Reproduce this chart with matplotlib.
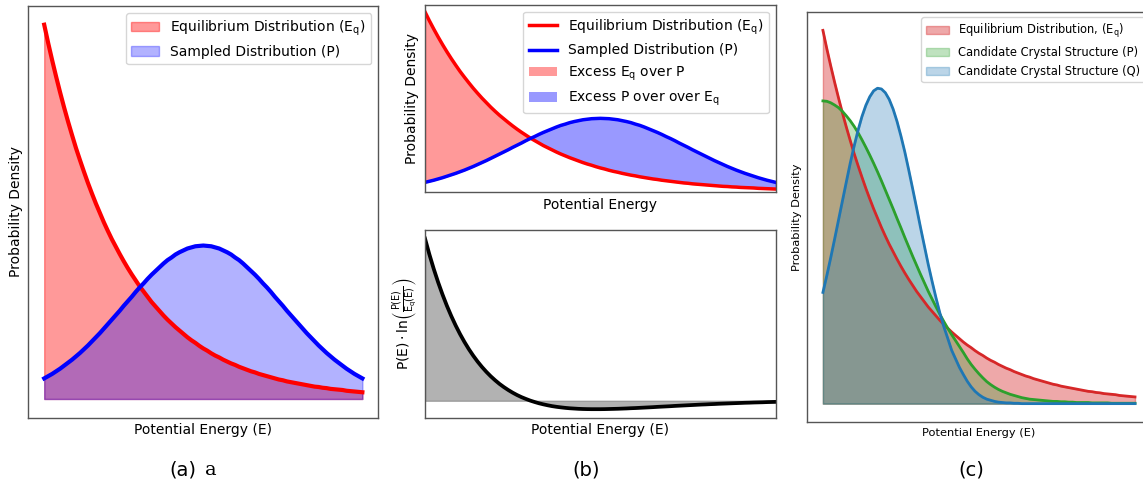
import numpy as np
import matplotlib
matplotlib.use("Agg")
import matplotlib.pyplot as plt
from matplotlib.lines import Line2D
from matplotlib.patches import Patch

plt.rcParams['font.family'] = ['DejaVu Sans']
plt.rcParams['mathtext.fontset'] = 'dejavusans'

# ---- data (x = normalised potential energy) ----
energy = np.linspace(0, 1, 81)

eq_density = [1.000, 0.951, 0.905, 0.861, 0.819, 0.779, 0.741, 0.705, 0.670, 0.638,
              0.607, 0.577, 0.549, 0.522, 0.497, 0.472, 0.449, 0.427, 0.407, 0.387,
              0.368, 0.350, 0.333, 0.317, 0.301, 0.287, 0.273, 0.259, 0.247, 0.235,
              0.223, 0.212, 0.202, 0.192, 0.183, 0.174, 0.165, 0.157, 0.150, 0.142,
              0.135, 0.129, 0.122, 0.116, 0.111, 0.105, 0.100, 0.095, 0.091, 0.086,
              0.082, 0.078, 0.074, 0.071, 0.067, 0.064, 0.061, 0.058, 0.055, 0.052,
              0.050, 0.047, 0.045, 0.043, 0.041, 0.039, 0.037, 0.035, 0.033, 0.032,
              0.030, 0.029, 0.027, 0.026, 0.025, 0.024, 0.022, 0.021, 0.020, 0.019,
              0.018]

sampled_density = [0.055, 0.061, 0.067, 0.074, 0.081, 0.089, 0.097, 0.105, 0.114, 0.123,
                   0.133, 0.143, 0.154, 0.165, 0.176, 0.188, 0.200, 0.212, 0.224, 0.236,
                   0.249, 0.261, 0.273, 0.286, 0.298, 0.309, 0.321, 0.332, 0.342, 0.352,
                   0.362, 0.371, 0.378, 0.386, 0.392, 0.397, 0.402, 0.405, 0.408, 0.409,
                   0.410, 0.409, 0.408, 0.405, 0.402, 0.397, 0.392, 0.386, 0.378, 0.371,
                   0.362, 0.352, 0.342, 0.332, 0.321, 0.309, 0.298, 0.286, 0.273, 0.261,
                   0.249, 0.236, 0.224, 0.212, 0.200, 0.188, 0.176, 0.165, 0.154, 0.143,
                   0.133, 0.123, 0.114, 0.105, 0.097, 0.089, 0.081, 0.074, 0.067, 0.061,
                   0.055]

kl_term = [2.892, 2.609, 2.349, 2.111, 1.893, 1.692, 1.509, 1.341, 1.188, 1.048,
           0.920, 0.804, 0.698, 0.602, 0.515, 0.436, 0.365, 0.300, 0.243, 0.191,
           0.144, 0.102, 0.065, 0.033, 0.003, -0.022, -0.045, -0.064, -0.081, -0.096,
           -0.108, -0.118, -0.127, -0.134, -0.139, -0.144, -0.147, -0.149, -0.150, -0.150,
           -0.150, -0.149, -0.147, -0.145, -0.143, -0.140, -0.137, -0.133, -0.130, -0.126,
           -0.122, -0.118, -0.114, -0.109, -0.105, -0.101, -0.097, -0.092, -0.088, -0.084,
           -0.080, -0.076, -0.072, -0.068, -0.065, -0.061, -0.058, -0.054, -0.051, -0.048,
           -0.045, -0.042, -0.039, -0.036, -0.034, -0.031, -0.029, -0.027, -0.024, -0.022,
           -0.020]

eq_crystal = eq_density

cand_p = [0.811, 0.810, 0.806, 0.800, 0.793, 0.783, 0.771, 0.758, 0.743, 0.726,
          0.707, 0.687, 0.666, 0.644, 0.621, 0.597, 0.572, 0.547, 0.522, 0.496,
          0.471, 0.445, 0.420, 0.395, 0.371, 0.347, 0.324, 0.301, 0.280, 0.259,
          0.239, 0.220, 0.202, 0.185, 0.169, 0.153, 0.137, 0.120, 0.105, 0.092,
          0.080, 0.069, 0.059, 0.051, 0.044, 0.038, 0.033, 0.029, 0.025, 0.022,
          0.019, 0.016, 0.014, 0.012, 0.011, 0.010, 0.009, 0.008, 0.007, 0.006,
          0.006, 0.005, 0.005, 0.004, 0.004, 0.003, 0.003, 0.003, 0.003, 0.002,
          0.002, 0.002, 0.002, 0.002, 0.001, 0.001, 0.001, 0.001, 0.001, 0.001,
          0.001]

cand_q = [0.298, 0.343, 0.391, 0.441, 0.492, 0.543, 0.594, 0.644, 0.690, 0.732,
          0.769, 0.799, 0.822, 0.838, 0.845, 0.843, 0.833, 0.815, 0.789, 0.756,
          0.717, 0.674, 0.626, 0.576, 0.525, 0.473, 0.423, 0.373, 0.327, 0.283,
          0.242, 0.206, 0.175, 0.143, 0.120, 0.097, 0.078, 0.060, 0.045, 0.033,
          0.024, 0.017, 0.012, 0.009, 0.006, 0.004, 0.003, 0.002, 0.002, 0.001,
          0.001, 0.000, 0.000, 0.000, 0.000, 0.000, 0.000, 0.000, 0.000, 0.000,
          0.000, 0.000, 0.000, 0.000, 0.000, 0.000, 0.000, 0.000, 0.000, 0.000,
          0.000, 0.000, 0.000, 0.000, 0.000, 0.000, 0.000, 0.000, 0.000, 0.000,
          0.000]

EQ = r'$\mathrm{E_q}$'

W, H = 1143, 487
fig = plt.figure(figsize=(W / 100, H / 100), dpi=100)


def ax_px(left, top, right, bottom):
    return fig.add_axes([left / W, 1 - bottom / H, (right - left) / W, (bottom - top) / H])


def style(ax):
    ax.set_xticks([])
    ax.set_yticks([])
    for s in ax.spines.values():
        s.set_color('#555555')
        s.set_linewidth(1.0)


x = np.asarray(energy)
eq = np.asarray(eq_density)
p = np.asarray(sampled_density)

# ---------------- (a) ----------------
axa = ax_px(28.3, 6, 378.3, 417.7)
style(axa)
axa.fill_between(x, eq, 0, color='red', alpha=0.4, label='Equilibrium Distribution (' + EQ + ')')
axa.fill_between(x, p, 0, color='blue', alpha=0.3, label='Sampled Distribution (P)')
axa.plot(x, eq, color='red', lw=3)
axa.plot(x, p, color='blue', lw=3)
axa.set_xlabel('Potential Energy (E)', fontsize=10)
axa.set_ylabel('Probability Density', fontsize=10)
axa.legend(loc='upper right', fontsize=10)

# ---------------- (b) top ----------------
axb = ax_px(425, 4.7, 775.7, 192.3)
style(axb)
axb.plot(x, eq, color='red', lw=2.5)
axb.plot(x, p, color='blue', lw=2.5)
axb.fill_between(x, eq, p, where=eq >= p, interpolate=True, color='red', alpha=0.4)
axb.fill_between(x, eq, p, where=p >= eq, interpolate=True, color='blue', alpha=0.4)
axb.set_xlim(0, 1)
axb.set_ylim(0, 1.04)
axb.set_xlabel('Potential Energy', fontsize=10)
axb.set_ylabel('Probability Density', fontsize=10)
handles = [Line2D([], [], color='red', lw=2.5), Line2D([], [], color='blue', lw=2.5),
           Patch(facecolor='red', alpha=0.4), Patch(facecolor='blue', alpha=0.4)]
labels = ['Equilibrium Distribution (' + EQ + ')', 'Sampled Distribution (P)',
          'Excess ' + EQ + ' over P', 'Excess P over over ' + EQ]
axb.legend(handles, labels, loc='upper right', fontsize=10)

# ---------------- (b) bottom ----------------
axk = ax_px(425, 230, 775.7, 417.7)
style(axk)
kl = np.asarray(kl_term)
axk.fill_between(x, kl, 0, color='gray', alpha=0.6)
axk.plot(x, kl, color='black', lw=2.7)
axk.set_xlim(0, 1)
axk.set_xlabel('Potential Energy (E)', fontsize=10)
axk.set_ylabel(r'$\mathrm{P(E)\cdot ln\left(\frac{P(E)}{E_q(E)}\right)}$', fontsize=10)

# ---------------- (c) ----------------
axc = ax_px(807.3, 11.7, 1150.6, 422.3)
style(axc)
series = [(eq_crystal, 'tab:red', 0.4, 'Equilibrium Distribution, (' + EQ + ')'),
          (cand_p, 'tab:green', 0.3, 'Candidate Crystal Structure (P)'),
          (cand_q, 'tab:blue', 0.3, 'Candidate Crystal Structure (Q)')]
for vals, col, al, lab in series:
    axc.fill_between(x, vals, 0, color=col, alpha=al, label=lab)
    axc.plot(x, vals, color=col, lw=2)
axc.set_xlabel('Potential Energy (E)', fontsize=8.2)
axc.set_ylabel('Probability Density', fontsize=8.2)
axc.legend(loc='upper right', fontsize=8.3)

# captions
fig.text(183 / W, 1 - 470 / H, '(a)', fontsize=14, ha='center', va='center')
fig.text(211 / W, 1 - 470 / H, 'a', fontsize=14, ha='center', va='center', family='DejaVu Serif')
fig.text(586 / W, 1 - 470 / H, '(b)', fontsize=14, ha='center', va='center')
fig.text(971 / W, 1 - 470 / H, '(c)', fontsize=14, ha='center', va='center')

fig.savefig('out.png', dpi=100)
